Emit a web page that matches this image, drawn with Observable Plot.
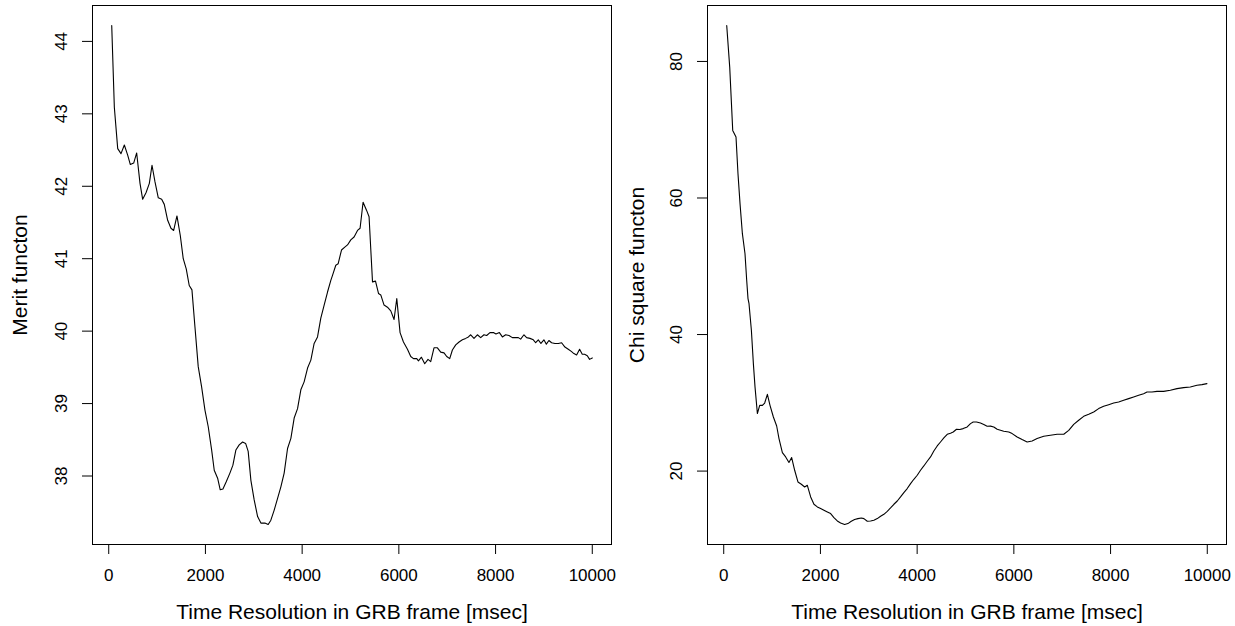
<!DOCTYPE html>
<html><head><meta charset="utf-8">
<script src="https://cdn.jsdelivr.net/npm/d3@7"></script>
<script src="https://cdn.jsdelivr.net/npm/@observablehq/plot@0.6"></script>
<style>
body{margin:0;background:#fff;}
#wrap{display:flex;width:1235px;height:626px;}
svg{display:block}
</style></head><body><div id="wrap"></div>
<script>
const meritX = [62,116,186,254,323,392,447,516,578,647,702,771,840,895,957,1025,1095,1149,1219,1287,1343,1411,1480,1541,1603,1665,1721,1783,1851,1921,1990,2058,2128,2182,2252,2306,2362,2430,2506,2568,2630,2698,2769,2831,2884,2940,3008,3079,3147,3229,3298,3353,3422,3492,3560,3628,3698,3767,3835,3905,3973,4041,4112,4180,4248,4318,4386,4455,4525,4593,4628,4696,4744,4814,4882,4938,5006,5074,5145,5198,5260,5331,5384,5455,5517,5579,5626,5694,5764,5833,5901,5957,6025,6095,6178,6246,6302,6370,6405,6467,6535,6603,6659,6727,6797,6866,6934,6990,7052,7107,7176,7245,7314,7382,7438,7486,7554,7624,7692,7760,7816,7884,7955,8008,8079,8141,8209,8277,8347,8415,8471,8519,8587,8643,8711,8781,8829,8884,8938,9000,9050,9103,9159,9228,9298,9366,9434,9504,9566,9620,9676,9738,9793,9841,9897,9944,10000];
const meritY = [44.22,43.09,42.52,42.45,42.57,42.43,42.30,42.32,42.46,42.04,41.82,41.91,42.04,42.29,42.06,41.84,41.82,41.75,41.53,41.42,41.39,41.59,41.32,41.00,40.86,40.63,40.57,40.06,39.51,39.23,38.91,38.68,38.36,38.08,37.97,37.81,37.82,37.92,38.04,38.15,38.36,38.43,38.47,38.45,38.34,37.94,37.67,37.44,37.35,37.35,37.33,37.39,37.53,37.69,37.85,38.04,38.38,38.52,38.80,38.93,39.19,39.30,39.49,39.60,39.83,39.92,40.18,40.36,40.54,40.70,40.77,40.91,40.93,41.12,41.16,41.19,41.26,41.30,41.39,41.42,41.78,41.67,41.58,40.68,40.69,40.52,40.50,40.36,40.33,40.28,40.16,40.45,39.98,39.85,39.75,39.65,39.62,39.62,39.59,39.64,39.55,39.61,39.58,39.77,39.77,39.71,39.70,39.65,39.62,39.74,39.81,39.85,39.88,39.90,39.92,39.95,39.90,39.95,39.91,39.95,39.94,39.98,39.98,39.96,39.98,39.92,39.95,39.94,39.91,39.91,39.91,39.89,39.95,39.91,39.90,39.88,39.84,39.88,39.83,39.88,39.82,39.87,39.84,39.83,39.83,39.84,39.78,39.75,39.72,39.69,39.67,39.75,39.68,39.68,39.66,39.61,39.63];
const chiX = [62,124,186,254,295,337,386,440,475,502,523,572,613,647,696,744,800,847,903,957,1027,1095,1143,1213,1281,1349,1405,1467,1535,1605,1674,1729,1798,1866,1936,2004,2072,2143,2211,2279,2349,2417,2500,2568,2638,2707,2775,2845,2899,2969,3037,3105,3176,3244,3312,3382,3450,3519,3589,3657,3725,3795,3864,3932,4002,4070,4138,4208,4277,4345,4415,4483,4552,4622,4690,4746,4814,4882,4952,5035,5103,5159,5227,5310,5378,5448,5517,5585,5655,5791,5895,5965,6068,6171,6275,6378,6481,6618,6756,6895,7032,7135,7238,7341,7444,7548,7651,7754,7857,7961,8064,8167,8271,8374,8477,8581,8684,8753,8857,8960,9097,9236,9374,9511,9649,9787,9890,9993];
const chiY = [85.27,79.17,69.9,68.92,63.56,59.17,54.77,51.84,47.94,45.26,44.52,40.62,35.74,32.33,28.43,29.63,29.63,29.97,31.24,29.63,27.92,26.6,24.76,22.71,22.07,21.25,21.98,20.12,18.41,18.07,17.67,17.92,16.21,15.14,14.75,14.51,14.26,14.01,13.78,13.19,12.69,12.40,12.17,12.31,12.65,12.90,13.04,13.13,13.04,12.65,12.69,12.80,13.04,13.38,13.67,14.11,14.60,15.14,15.62,16.21,16.85,17.44,18.17,18.80,19.39,20.12,20.75,21.44,22.07,22.95,23.68,24.26,24.85,25.39,25.55,25.73,26.12,26.08,26.22,26.46,26.95,27.19,27.19,27.04,26.83,26.56,26.58,26.46,26.12,25.83,25.73,25.49,25.00,24.61,24.26,24.41,24.76,25.10,25.24,25.39,25.39,25.97,26.85,27.44,28.02,28.32,28.65,29.15,29.49,29.73,29.97,30.12,30.37,30.61,30.85,31.10,31.34,31.58,31.58,31.68,31.68,31.83,32.08,32.22,32.32,32.56,32.66,32.81];
const xTicks = [0,2000,4000,6000,8000,10000];
const meritTicks = [38,39,40,41,42,43,44];
const chiTicks = [20,40,60,80];
const xTitle = "Time Resolution in GRB frame [msec]";
const meritTitle = "Merit functon";
const chiTitle = "Chi square functon";

function pad(ext){const r=ext[1]-ext[0];return [ext[0]-0.04*r, ext[1]+0.04*r];}
const xDomain = pad(d3.extent(meritX.concat(chiX)));

function panel({X,Y,yTicks,yTitle,width,ml,mr}) {
  const data = X.map((x,i)=>({x, y:Y[i]}));
  return Plot.plot({
    width, height:626, marginLeft:ml, marginRight:mr, marginTop:5, marginBottom:82,
    style:{fontFamily:"'Liberation Sans', Arial, sans-serif", background:"white", color:"black", overflow:"visible"},
    x:{domain: xDomain, nice:false},
    y:{domain: pad(d3.extent(Y)), nice:false},
    marks:[
      Plot.frame({stroke:"black", strokeWidth:1}),
      Plot.axisX({ticks:xTicks, tickSize:10, tickPadding:14, fontSize:17, label:null, tickFormat:d=>String(d)}),
      Plot.axisY({ticks:yTicks, tickSize:10, tickPadding:16, tickRotate:-90, textAnchor:"middle", lineAnchor:"bottom", fontSize:17, label:null, tickFormat:d=>String(d)}),
      Plot.line(data,{x:"x",y:"y",stroke:"black",strokeWidth:1.1}),
      Plot.text([xTitle],{text:d=>d, frameAnchor:"bottom", dy:74, fontSize:21, lineAnchor:"bottom", textAnchor:"middle"}),
      Plot.text([yTitle],{text:d=>d, frameAnchor:"left", dx:-(ml-26), rotate:-90, fontSize:21, lineAnchor:"bottom", textAnchor:"middle"})
    ]
  });
}
const wrap = document.getElementById("wrap");
wrap.appendChild(panel({X:meritX, Y:meritY, yTicks:meritTicks, yTitle:meritTitle, width:617, ml:92, mr:6}));
wrap.appendChild(panel({X:chiX, Y:chiY, yTicks:chiTicks, yTitle:chiTitle, width:618, ml:90, mr:9}));
</script></body></html>
